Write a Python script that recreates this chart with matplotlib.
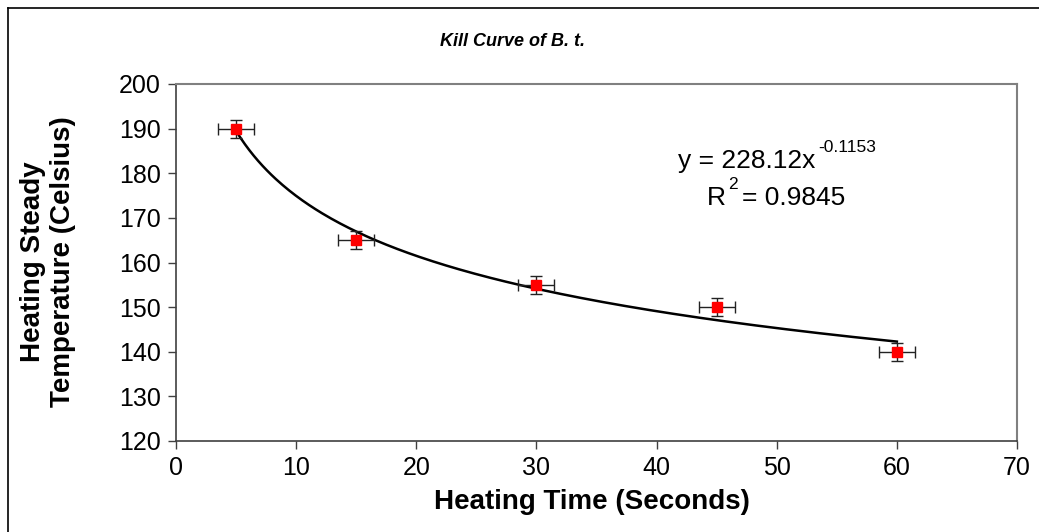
import numpy as np
import matplotlib
matplotlib.use("Agg")
import matplotlib.pyplot as plt
from matplotlib.lines import Line2D

plt.rcParams['font.family'] = ['Liberation Sans', 'DejaVu Sans']

heating_time = [5, 15, 30, 45, 60]
temperature = [190, 165, 155, 150, 140]
x_err = [1.5, 1.5, 1.5, 1.5, 1.5]
y_err = [2, 2, 2, 2, 2]
fit_a = 228.12
fit_b = -0.1153
r_squared = 0.9845

W, H = 1039, 532
fig = plt.figure(figsize=(W / 100, H / 100), dpi=100)
ax = fig.add_axes([176 / W, 1 - 441 / H, (1017 - 176) / W, (441 - 84) / H])


def px(x, y):
    return x / W, 1 - y / H


# trendline
xs = np.linspace(min(heating_time), max(heating_time), 300)
ax.plot(xs, fit_a * xs ** fit_b, color='black', lw=1.8, zorder=2)

ax.errorbar(heating_time, temperature, xerr=x_err, yerr=y_err, fmt='none',
            ecolor='#222222', elinewidth=1.0, capsize=4.5, capthick=1.0, zorder=3)
ax.plot(heating_time, temperature, 's', color='#ff0000', ms=6.5, mec='#ff0000', zorder=4)

ax.set_xlim(0, 70)
ax.set_ylim(120, 200)
ax.set_xticks(range(0, 71, 10))
ax.set_yticks(range(120, 201, 10))
ax.tick_params(axis='both', direction='out', length=6, width=1, colors='#404040',
               labelsize=18, labelcolor='black', pad=5)
for s in ['left', 'bottom']:
    ax.spines[s].set_color('#404040')
    ax.spines[s].set_linewidth(1.2)
for s in ['top', 'right']:
    ax.spines[s].set_color('#808080')
    ax.spines[s].set_linewidth(1.5)

fig.text(*px(592, 502), 'Heating Time (Seconds)', fontsize=20, fontweight='bold',
         ha='center', va='center')
fig.text(*px(33, 262), 'Heating Steady', rotation=90, fontsize=20, fontweight='bold',
         ha='center', va='center')
fig.text(*px(63, 262), 'Temperature (Celsius)', rotation=90, fontsize=20,
         fontweight='bold', ha='center', va='center')

fig.text(*px(512, 42), 'Kill Curve of B. t.', fontsize=13, fontweight='bold',
         style='italic', ha='center', va='center')

fig.text(*px(678, 168), f'y = {fit_a}x', fontsize=19, ha='left', va='baseline')
fig.text(*px(818, 152), f'{fit_b}', fontsize=12.5, ha='left', va='baseline')
fig.text(*px(707, 205), 'R', fontsize=19, ha='left', va='baseline')
fig.text(*px(728, 189), '2', fontsize=12.5, ha='left', va='baseline')
fig.text(*px(742, 205), f'= {r_squared}', fontsize=19, ha='left', va='baseline')

# outer border (left and top)
fig.add_artist(Line2D([8 / W, 8 / W], [0, 1 - 8 / H], transform=fig.transFigure,
                      color='black', lw=1.2))
fig.add_artist(Line2D([8 / W, 1], [1 - 8 / H, 1 - 8 / H], transform=fig.transFigure,
                      color='black', lw=1.2))

fig.savefig('out.png', dpi=100)
